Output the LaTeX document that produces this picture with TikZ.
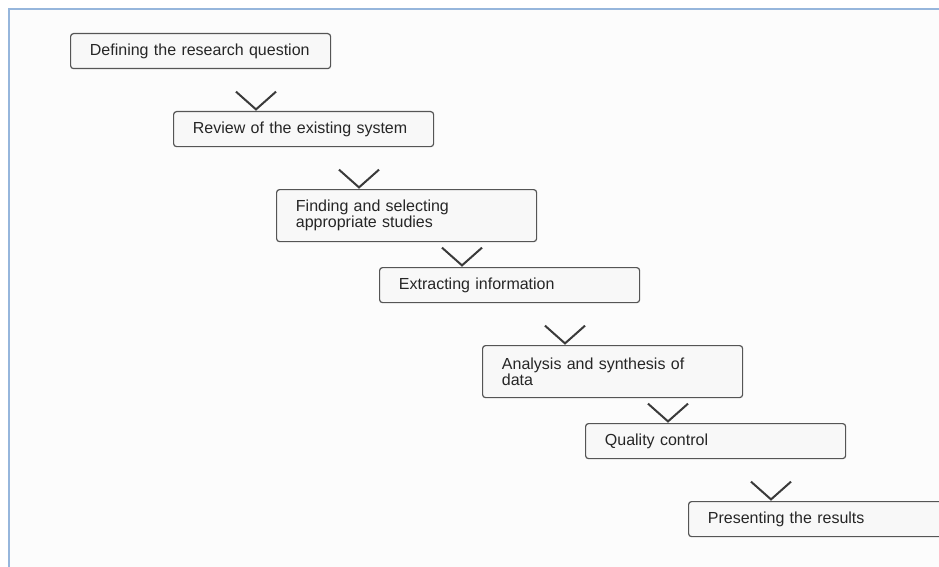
\documentclass[tikz,border=0pt]{standalone}
\usepackage{fontspec}
\setmainfont{Liberation Sans}
\usepackage{xcolor}
\usepackage{tikz}
\usetikzlibrary{positioning, calc}
\definecolor{frameBlue}{RGB}{150,182,220}
\definecolor{frameFill}{RGB}{252,252,252}
\definecolor{boxFill}{RGB}{248,248,248}
\definecolor{boxLine}{RGB}{85,85,85}
\definecolor{chevronGray}{RGB}{58,58,58}
\tikzset{
    stepbox/.style={
        rectangle,
        draw=boxLine,
        line width=0.9pt,
        rounded corners=2.2pt,
        fill=boxFill,
        anchor=north west,
        text width=166pt,
        inner xsep=14.5pt,
        inner ysep=2pt,
        minimum height=26.25pt,
        align=left,
        text=black!85,
        font=\fontsize{12pt}{12pt}\selectfont
    },
    twoline/.style={
        minimum height=39pt
    },
    chevron/.style={
        draw=chevronGray,
        line width=1.5pt
    }
}

\begin{document}
\begin{tikzpicture}
                \useasboundingbox (0,0) rectangle (704.25pt,-425.25pt);
                % Rahmen
                \fill[frameFill] (6.4pt,-7.1pt) rectangle (704.25pt,-425.25pt);
                \draw[frameBlue, line width=1.5pt] (6.4pt,-425.25pt) -- (6.4pt,-7.1pt) -- (704.25pt,-7.1pt);

                % Schritte
                \node[stepbox] (question) at (52.5pt,-24.75pt) {Defining the research question};
                \node[stepbox] (review) at ($(question.north west)+(77.25pt,-58.5pt)$) {Review of the existing system};
                \node[stepbox, twoline] (studies) at ($(review.north west)+(77.25pt,-58.5pt)$) {Finding and selecting\\appropriate studies};
                \node[stepbox] (extract) at ($(studies.north west)+(77.25pt,-58.5pt)$) {Extracting information};
                \node[stepbox, twoline] (analysis) at ($(extract.north west)+(77.25pt,-58.5pt)$) {Analysis and synthesis of\\data};
                \node[stepbox] (quality) at ($(analysis.north west)+(77.25pt,-58.5pt)$) {Quality control};
                \node[stepbox] (results) at ($(quality.north west)+(77.25pt,-58.5pt)$) {Presenting the results};

                % Winkel zwischen den Schritten
                \draw[chevron] ([xshift=47.25pt,yshift=14.5pt]review.north west) -- ([xshift=62.25pt,yshift=1.2pt]review.north west) -- ([xshift=77.25pt,yshift=14.5pt]review.north west);
                \draw[chevron] ([xshift=47.25pt,yshift=14.5pt]studies.north west) -- ([xshift=62.25pt,yshift=1.2pt]studies.north west) -- ([xshift=77.25pt,yshift=14.5pt]studies.north west);
                \draw[chevron] ([xshift=47.25pt,yshift=14.5pt]extract.north west) -- ([xshift=62.25pt,yshift=1.2pt]extract.north west) -- ([xshift=77.25pt,yshift=14.5pt]extract.north west);
                \draw[chevron] ([xshift=47.25pt,yshift=14.5pt]analysis.north west) -- ([xshift=62.25pt,yshift=1.2pt]analysis.north west) -- ([xshift=77.25pt,yshift=14.5pt]analysis.north west);
                \draw[chevron] ([xshift=47.25pt,yshift=14.5pt]quality.north west) -- ([xshift=62.25pt,yshift=1.2pt]quality.north west) -- ([xshift=77.25pt,yshift=14.5pt]quality.north west);
                \draw[chevron] ([xshift=47.25pt,yshift=14.5pt]results.north west) -- ([xshift=62.25pt,yshift=1.2pt]results.north west) -- ([xshift=77.25pt,yshift=14.5pt]results.north west);
            \end{tikzpicture}
\end{document}
